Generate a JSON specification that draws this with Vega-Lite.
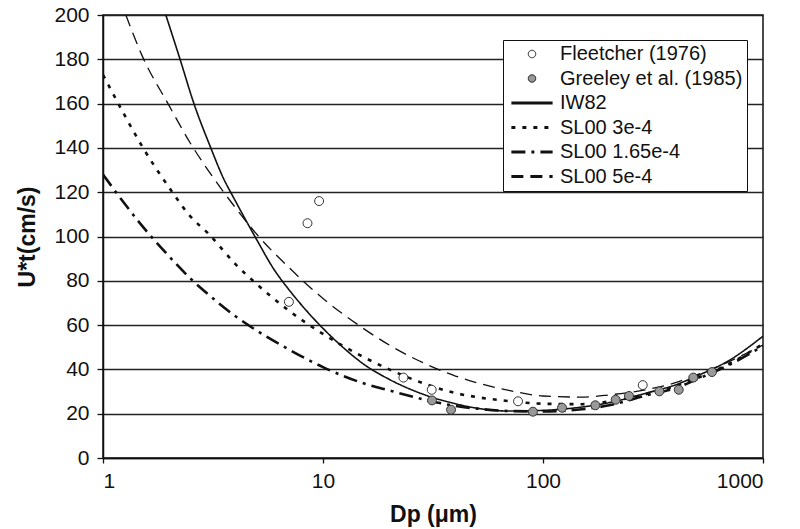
{
  "$schema": "https://vega.github.io/schema/vega-lite/v6.json",
  "width": 660,
  "height": 443,
  "autosize": {"type": "none"},
  "padding": {"left": 103, "top": 15, "right": 37, "bottom": 71},
  "background": "white",
  "config": {
    "font": "Liberation Sans",
    "view": {"stroke": "#111", "strokeWidth": 1.5},
    "axis": {
      "labelFont": "Liberation Sans",
      "labelFontSize": 21,
      "labelColor": "#111",
      "titleFont": "Liberation Sans",
      "titleFontSize": 23,
      "titleFontWeight": "bold",
      "titleColor": "#111",
      "domainColor": "#111",
      "domainWidth": 1.5,
      "tickColor": "#111",
      "tickWidth": 1.3
    }
  },
  "datasets": {
    "obs": [
      {"series": "Fleetcher (1976)", "d": 7.0, "u": 70.5},
      {"series": "Fleetcher (1976)", "d": 8.5, "u": 106},
      {"series": "Fleetcher (1976)", "d": 9.6, "u": 116},
      {"series": "Fleetcher (1976)", "d": 23.2, "u": 36.3},
      {"series": "Fleetcher (1976)", "d": 31.2, "u": 30.8},
      {"series": "Fleetcher (1976)", "d": 77, "u": 25.6},
      {"series": "Fleetcher (1976)", "d": 284, "u": 32.9},
      {"series": "Greeley et al. (1985)", "d": 31.3, "u": 26},
      {"series": "Greeley et al. (1985)", "d": 38.2, "u": 21.8},
      {"series": "Greeley et al. (1985)", "d": 90, "u": 20.9},
      {"series": "Greeley et al. (1985)", "d": 122, "u": 22.7},
      {"series": "Greeley et al. (1985)", "d": 173, "u": 23.8},
      {"series": "Greeley et al. (1985)", "d": 214, "u": 26.3},
      {"series": "Greeley et al. (1985)", "d": 246, "u": 28},
      {"series": "Greeley et al. (1985)", "d": 338, "u": 30.1},
      {"series": "Greeley et al. (1985)", "d": 414, "u": 30.8},
      {"series": "Greeley et al. (1985)", "d": 482, "u": 36.3},
      {"series": "Greeley et al. (1985)", "d": 586, "u": 38.8}
    ],
    "curves": [
      {"series": "IW82", "d": 1.93, "u": 200},
      {"series": "IW82", "d": 2.24, "u": 180},
      {"series": "IW82", "d": 2.59, "u": 160},
      {"series": "IW82", "d": 3.09, "u": 140},
      {"series": "IW82", "d": 3.5, "u": 127},
      {"series": "IW82", "d": 4, "u": 116},
      {"series": "IW82", "d": 5, "u": 98.5},
      {"series": "IW82", "d": 6, "u": 85},
      {"series": "IW82", "d": 7, "u": 76},
      {"series": "IW82", "d": 8.5, "u": 66},
      {"series": "IW82", "d": 10, "u": 58.5},
      {"series": "IW82", "d": 12, "u": 51},
      {"series": "IW82", "d": 15, "u": 43},
      {"series": "IW82", "d": 20, "u": 35.5},
      {"series": "IW82", "d": 25, "u": 31},
      {"series": "IW82", "d": 30, "u": 28},
      {"series": "IW82", "d": 40, "u": 24.5},
      {"series": "IW82", "d": 50, "u": 22.5},
      {"series": "IW82", "d": 70, "u": 21.2},
      {"series": "IW82", "d": 100, "u": 21.5},
      {"series": "IW82", "d": 150, "u": 23},
      {"series": "IW82", "d": 200, "u": 25},
      {"series": "IW82", "d": 300, "u": 29.5},
      {"series": "IW82", "d": 400, "u": 33},
      {"series": "IW82", "d": 500, "u": 37},
      {"series": "IW82", "d": 700, "u": 44},
      {"series": "IW82", "d": 1000, "u": 55},
      {"series": "SL00 3e-4", "d": 1, "u": 173},
      {"series": "SL00 3e-4", "d": 1.25, "u": 155},
      {"series": "SL00 3e-4", "d": 1.5, "u": 141},
      {"series": "SL00 3e-4", "d": 2, "u": 122},
      {"series": "SL00 3e-4", "d": 2.5, "u": 109},
      {"series": "SL00 3e-4", "d": 3, "u": 101.5},
      {"series": "SL00 3e-4", "d": 4, "u": 87.5},
      {"series": "SL00 3e-4", "d": 5, "u": 78.5},
      {"series": "SL00 3e-4", "d": 7, "u": 66.5},
      {"series": "SL00 3e-4", "d": 10, "u": 56},
      {"series": "SL00 3e-4", "d": 15, "u": 46},
      {"series": "SL00 3e-4", "d": 20, "u": 40},
      {"series": "SL00 3e-4", "d": 30, "u": 33},
      {"series": "SL00 3e-4", "d": 40, "u": 29.3},
      {"series": "SL00 3e-4", "d": 50, "u": 27.5},
      {"series": "SL00 3e-4", "d": 70, "u": 25.7},
      {"series": "SL00 3e-4", "d": 100, "u": 24.5},
      {"series": "SL00 3e-4", "d": 150, "u": 24.3},
      {"series": "SL00 3e-4", "d": 200, "u": 25.5},
      {"series": "SL00 3e-4", "d": 300, "u": 29},
      {"series": "SL00 3e-4", "d": 400, "u": 32.5},
      {"series": "SL00 3e-4", "d": 500, "u": 36},
      {"series": "SL00 3e-4", "d": 700, "u": 42.5},
      {"series": "SL00 3e-4", "d": 1000, "u": 51.5},
      {"series": "SL00 1.65e-4", "d": 1, "u": 128},
      {"series": "SL00 1.65e-4", "d": 1.25, "u": 115},
      {"series": "SL00 1.65e-4", "d": 1.5, "u": 105},
      {"series": "SL00 1.65e-4", "d": 2, "u": 91},
      {"series": "SL00 1.65e-4", "d": 2.5, "u": 81},
      {"series": "SL00 1.65e-4", "d": 3, "u": 74},
      {"series": "SL00 1.65e-4", "d": 4, "u": 64},
      {"series": "SL00 1.65e-4", "d": 5, "u": 57.5},
      {"series": "SL00 1.65e-4", "d": 7, "u": 49},
      {"series": "SL00 1.65e-4", "d": 10, "u": 41},
      {"series": "SL00 1.65e-4", "d": 15, "u": 34},
      {"series": "SL00 1.65e-4", "d": 20, "u": 30.5},
      {"series": "SL00 1.65e-4", "d": 30, "u": 26},
      {"series": "SL00 1.65e-4", "d": 40, "u": 23.5},
      {"series": "SL00 1.65e-4", "d": 50, "u": 22.3},
      {"series": "SL00 1.65e-4", "d": 70, "u": 21.2},
      {"series": "SL00 1.65e-4", "d": 100, "u": 21},
      {"series": "SL00 1.65e-4", "d": 150, "u": 22},
      {"series": "SL00 1.65e-4", "d": 200, "u": 23.8},
      {"series": "SL00 1.65e-4", "d": 300, "u": 28.5},
      {"series": "SL00 1.65e-4", "d": 400, "u": 31.5},
      {"series": "SL00 1.65e-4", "d": 500, "u": 35.5},
      {"series": "SL00 1.65e-4", "d": 700, "u": 42},
      {"series": "SL00 1.65e-4", "d": 1000, "u": 50.5},
      {"series": "SL00 5e-4", "d": 1.27, "u": 200},
      {"series": "SL00 5e-4", "d": 1.5, "u": 182},
      {"series": "SL00 5e-4", "d": 2, "u": 159},
      {"series": "SL00 5e-4", "d": 2.5, "u": 142},
      {"series": "SL00 5e-4", "d": 3, "u": 130},
      {"series": "SL00 5e-4", "d": 4, "u": 113},
      {"series": "SL00 5e-4", "d": 5, "u": 101},
      {"series": "SL00 5e-4", "d": 7, "u": 86},
      {"series": "SL00 5e-4", "d": 10, "u": 72},
      {"series": "SL00 5e-4", "d": 15, "u": 59},
      {"series": "SL00 5e-4", "d": 20, "u": 51},
      {"series": "SL00 5e-4", "d": 30, "u": 42},
      {"series": "SL00 5e-4", "d": 40, "u": 37},
      {"series": "SL00 5e-4", "d": 50, "u": 34},
      {"series": "SL00 5e-4", "d": 70, "u": 30.5},
      {"series": "SL00 5e-4", "d": 100, "u": 28},
      {"series": "SL00 5e-4", "d": 150, "u": 27.5},
      {"series": "SL00 5e-4", "d": 200, "u": 28.5},
      {"series": "SL00 5e-4", "d": 300, "u": 31},
      {"series": "SL00 5e-4", "d": 400, "u": 34},
      {"series": "SL00 5e-4", "d": 500, "u": 37.5},
      {"series": "SL00 5e-4", "d": 700, "u": 43.5},
      {"series": "SL00 5e-4", "d": 1000, "u": 51}
    ]
  },
  "encoding": {
    "x": {
      "field": "d",
      "type": "quantitative",
      "title": "Dp (μm)",
      "scale": {"type": "log", "domain": [1, 1000], "nice": false},
      "axis": {"values": [1, 10, 100, 1000], "format": "d", "grid": false, "tickSize": 5, "labelPadding": 7, "titlePadding": 12}
    },
    "y": {
      "field": "u",
      "type": "quantitative",
      "title": "U*t(cm/s)",
      "scale": {"domain": [0, 200], "nice": false},
      "axis": {"values": [0, 20, 40, 60, 80, 100, 120, 140, 160, 180, 200], "grid": true, "gridColor": "#222", "gridWidth": 1.3, "gridOpacity": 1, "tickSize": 6, "labelPadding": 8, "titlePadding": 14}
    }
  },
  "layer": [
    {
      "data": {"name": "curves"},
      "mark": {"type": "line", "interpolate": "monotone", "color": "#111", "clip": true},
      "encoding": {
        "detail": {"field": "series"},
        "strokeWidth": {
          "field": "series",
          "type": "nominal",
          "scale": {"type": "ordinal", "domain": ["IW82", "SL00 3e-4", "SL00 1.65e-4", "SL00 5e-4"], "range": [1.6, 2.6, 2.6, 1.3]},
          "legend": null
        },
        "strokeDash": {
          "field": "series",
          "type": "nominal",
          "scale": {
            "domain": ["Fleetcher (1976)", "Greeley et al. (1985)", "IW82", "SL00 3e-4", "SL00 1.65e-4", "SL00 5e-4"],
            "range": [[1, 0], [1, 0], [1, 0], [4, 7], [14, 6, 3, 6], [12, 7]]
          },
          "legend": {
            "title": null,
            "orient": "none",
            "legendX": 400,
            "legendY": 25,
            "direction": "vertical",
            "fillColor": "white",
            "strokeColor": "#111",
            "padding": 4,
            "rowPadding": 4.5,
            "labelFont": "Liberation Sans",
            "labelFontSize": 20,
            "labelLimit": 300,
            "labelColor": "#111",
            "symbolType": "stroke",
            "symbolStrokeColor": "#111",
            "encode": {
              "symbols": {
                "update": {
                  "x": {"value": 25},
                  "shape": {"signal": "datum.value == 'Fleetcher (1976)' || datum.value == 'Greeley et al. (1985)' ? 'circle' : 'stroke'"},
                  "size": {"signal": "datum.value == 'Fleetcher (1976)' || datum.value == 'Greeley et al. (1985)' ? 55 : 1700"},
                  "fill": {"signal": "datum.value == 'Fleetcher (1976)' ? 'white' : datum.value == 'Greeley et al. (1985)' ? '#999' : 'transparent'"},
                  "stroke": {"value": "#111"},
                  "strokeWidth": {"signal": "datum.value == 'Fleetcher (1976)' || datum.value == 'Greeley et al. (1985)' ? 1 : 2.8"}
                }
              },
              "labels": {
                "update": {
                  "x": {"value": 53}
                }
              }
            }
          }
        }
      }
    },
    {
      "data": {"name": "obs"},
      "mark": {"type": "point", "shape": "circle", "filled": true, "size": 80, "stroke": "#333", "strokeWidth": 1, "opacity": 1},
      "encoding": {
        "fill": {
          "field": "series",
          "type": "nominal",
          "scale": {"domain": ["Fleetcher (1976)", "Greeley et al. (1985)"], "range": ["white", "#999"]},
          "legend": null
        }
      }
    }
  ]
}
